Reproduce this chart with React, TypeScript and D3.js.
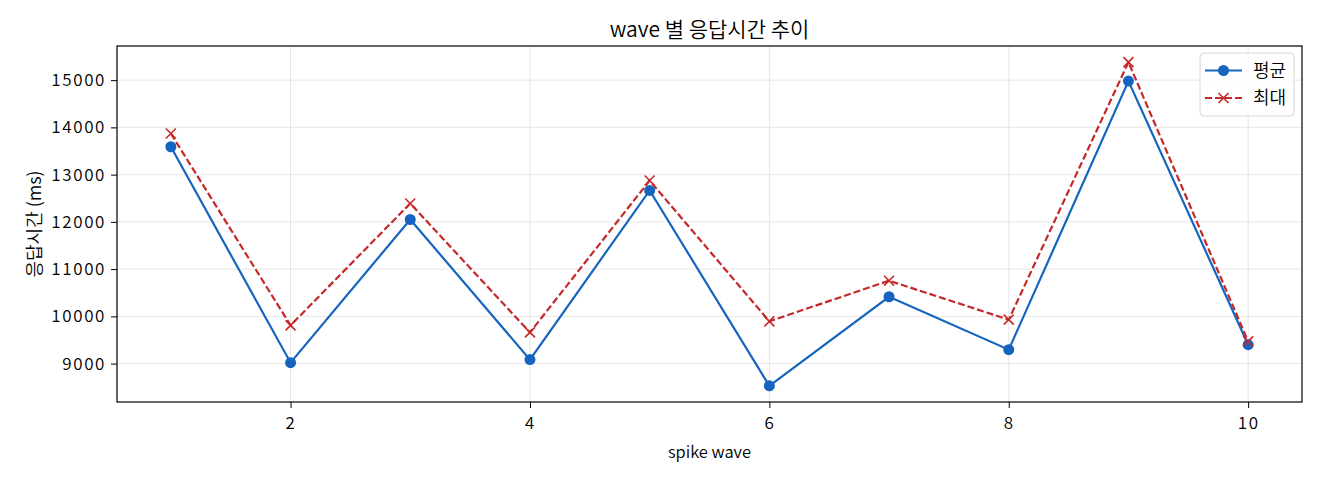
import React, {useEffect, useRef} from 'react';
import * as d3 from 'd3';

const waves = [1, 2, 3, 4, 5, 6, 7, 8, 9, 10];
const avgMs = [13590, 9020, 12050, 9085, 12665, 8530, 10415, 9295, 14980, 9400];
const maxMs = [13870, 9810, 12390, 9660, 12875, 9895, 10755, 9930, 15380, 9470];
const xTicks = [2, 4, 6, 8, 10];
const yTicks = [9000, 10000, 11000, 12000, 13000, 14000, 15000];
const seriesNames = ['평균', '최대'];

const FONT = '"Noto Sans CJK KR", "Noto Sans", sans-serif';
const BLUE = '#1565c0';
const RED = '#c62828';

const App: React.FC = () => {
  const svgRef = useRef<SVGSVGElement | null>(null);
  const width = 1320;
  const height = 480;

  useEffect(() => {
    if (!svgRef.current) return;
    const svg = d3.select(svgRef.current);
    svg.selectAll('*').remove();

    const margin = {top: 46, right: 18, bottom: 78, left: 117};
    const innerWidth = width - margin.left - margin.right;
    const innerHeight = height - margin.top - margin.bottom;

    const allVals = avgMs.concat(maxMs);
    const yMin = d3.min(allVals)!;
    const yMax = d3.max(allVals)!;
    const yPad = (yMax - yMin) * 0.05;
    const xPad = (d3.max(waves)! - d3.min(waves)!) * 0.05;

    const x = d3
      .scaleLinear()
      .domain([d3.min(waves)! - xPad, d3.max(waves)! + xPad])
      .range([0, innerWidth]);
    const y = d3
      .scaleLinear()
      .domain([yMin - yPad, yMax + yPad])
      .range([innerHeight, 0]);

    svg.append('rect').attr('width', width).attr('height', height).attr('fill', 'white');

    const g = svg.append('g').attr('transform', `translate(${margin.left},${margin.top})`);

    // grid
    g.append('g')
      .selectAll('line')
      .data(xTicks)
      .enter()
      .append('line')
      .attr('x1', (d) => x(d))
      .attr('x2', (d) => x(d))
      .attr('y1', 0)
      .attr('y2', innerHeight)
      .attr('stroke', '#b0b0b0')
      .attr('stroke-opacity', 0.3)
      .attr('stroke-width', 1);
    g.append('g')
      .selectAll('line')
      .data(yTicks)
      .enter()
      .append('line')
      .attr('x1', 0)
      .attr('x2', innerWidth)
      .attr('y1', (d) => y(d))
      .attr('y2', (d) => y(d))
      .attr('stroke', '#b0b0b0')
      .attr('stroke-opacity', 0.3)
      .attr('stroke-width', 1);

    // axes
    const xAxis = d3.axisBottom(x).tickValues(xTicks).tickSize(6).tickPadding(9).tickFormat(d3.format('d'));
    const yAxis = d3.axisLeft(y).tickValues(yTicks).tickSize(6).tickPadding(5).tickFormat(d3.format('d'));

    const xAxisNode = g.append('g').attr('transform', `translate(0,${innerHeight})`).call(xAxis);
    const yAxisNode = g.append('g').call(yAxis);
    [xAxisNode, yAxisNode].forEach((n) => {
      n.select('.domain').remove();
      n.selectAll('.tick line').attr('stroke', '#000').attr('stroke-width', 1);
      n.selectAll('.tick text')
        .style('font-family', FONT)
        .style('font-size', '17px')
        .style('font-weight', 350)
        .style('letter-spacing', '1.6px')
        .attr('fill', '#000');
    });

    g.append('rect')
      .attr('width', innerWidth)
      .attr('height', innerHeight)
      .attr('fill', 'none')
      .attr('stroke', '#000')
      .attr('stroke-width', 1.2);

    const line = d3
      .line<number>()
      .x((_d, i) => x(waves[i]))
      .y((d) => y(d));

    // avg series
    g.append('path')
      .datum(avgMs)
      .attr('d', line)
      .attr('fill', 'none')
      .attr('stroke', BLUE)
      .attr('stroke-width', 2.2);
    g.append('g')
      .selectAll('circle')
      .data(avgMs)
      .enter()
      .append('circle')
      .attr('cx', (_d, i) => x(waves[i]))
      .attr('cy', (d) => y(d))
      .attr('r', 5.5)
      .attr('fill', BLUE);

    // max series
    g.append('path')
      .datum(maxMs)
      .attr('d', line)
      .attr('fill', 'none')
      .attr('stroke', RED)
      .attr('stroke-width', 2.2)
      .attr('stroke-dasharray', '7,3');
    const cross = (sel: any, s: number) =>
      sel
        .append('path')
        .attr('d', `M${-s},${-s}L${s},${s}M${-s},${s}L${s},${-s}`)
        .attr('stroke', RED)
        .attr('stroke-width', 1.6)
        .attr('fill', 'none');
    g.append('g')
      .selectAll('g')
      .data(maxMs)
      .enter()
      .append('g')
      .attr('transform', (d, i) => `translate(${x(waves[i])},${y(d)})`)
      .call((sel: any) => cross(sel, 5));

    // title & labels
    const label = (t: string, size: number) =>
      svg
        .append('text')
        .style('font-family', FONT)
        .style('font-size', `${size}px`)
        .style('font-weight', 350)
        .attr('fill', '#000')
        .attr('text-anchor', 'middle')
        .text(t);

    label('wave 별 응답시간 추이', 21)
      .attr('x', margin.left + innerWidth / 2)
      .attr('y', 37);
    label('spike wave', 16.5)
      .attr('x', margin.left + innerWidth / 2)
      .attr('y', 458);
    label('응답시간 (ms)', 18).attr(
      'transform',
      `translate(41,${margin.top + innerHeight / 2}) rotate(-90)`
    );

    // legend
    const lg = svg.append('g').attr('transform', 'translate(1200,53)');
    lg.append('rect')
      .attr('width', 94)
      .attr('height', 63)
      .attr('rx', 4)
      .attr('fill', 'white')
      .attr('fill-opacity', 0.8)
      .attr('stroke', '#d6d6d6');
    seriesNames.forEach((name, i) => {
      const row = lg.append('g').attr('transform', `translate(0,${17.5 + i * 27.5})`);
      const color = i === 0 ? BLUE : RED;
      row
        .append('line')
        .attr('x1', 5)
        .attr('x2', 42)
        .attr('stroke', color)
        .attr('stroke-width', 2.2)
        .attr('stroke-dasharray', i === 0 ? null : '7,3');
      if (i === 0) {
        row.append('circle').attr('cx', 23.5).attr('r', 5.5).attr('fill', BLUE);
      } else {
        cross(row.append('g').attr('transform', 'translate(23.5,0)'), 5);
      }
      row
        .append('text')
        .attr('x', 53)
        .attr('dy', '0.35em')
        .style('font-family', FONT)
        .style('font-size', '18px')
        .style('font-weight', 350)
        .attr('fill', '#000')
        .text(name);
    });
  }, []);

  return (
    <svg
      ref={svgRef}
      width={width}
      height={height}
      style={{position: 'absolute', left: 0, top: 0}}
    />
  );
};

export default App;
